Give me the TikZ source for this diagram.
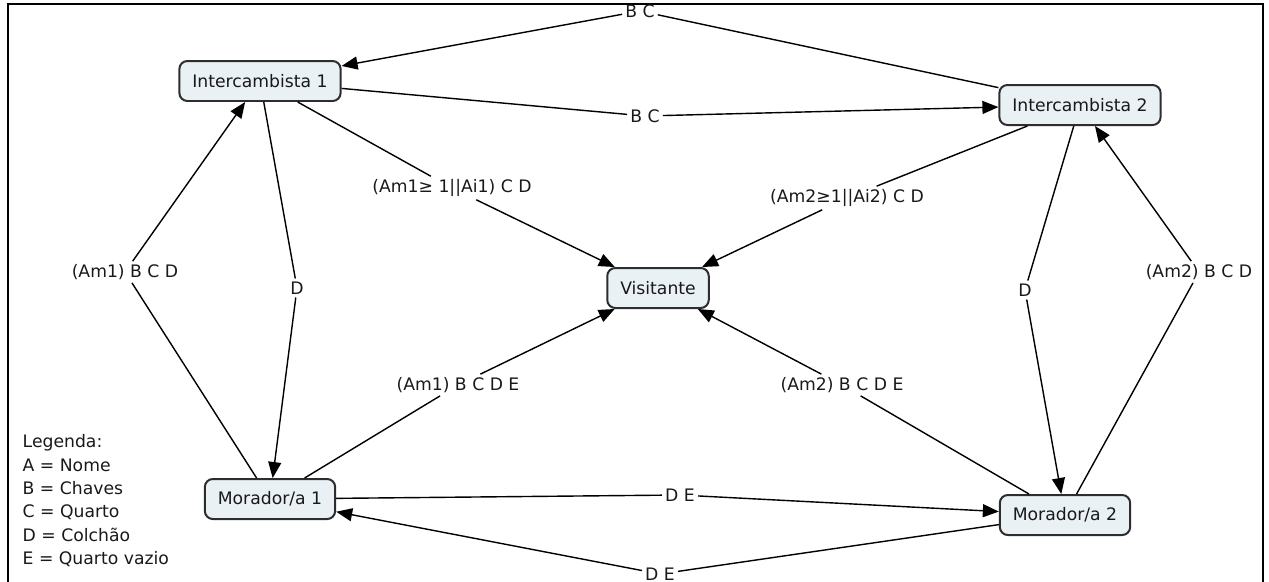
\documentclass[tikz,border=0pt]{standalone}
\usepackage{fontspec}
\setmainfont{DejaVu Sans}
\usetikzlibrary{arrows.meta}
\definecolor{color1}{RGB}{234,241,245}
\definecolor{color2}{RGB}{45,45,45}

\begin{document}
\begin{tikzpicture}[x=0.02cm, y=-0.02cm, >={Triangle[length=0.32cm,width=0.26cm]},
	every node/.style={font=\fontsize{9.8}{12}\selectfont, text=black!90},
	concept/.style={draw=color2, line width=0.04cm, fill=color1, rounded corners=0.16cm, inner xsep=0.26cm, minimum height=0.8cm},
	linkname/.style={inner sep=0.05cm},
	every path/.style={line width=0.8pt}
]
\useasboundingbox (0,0) rectangle (1269,582);
\draw[line width=0.04cm] (8,582) -- (8,4) -- (1263,4) -- (1263,582);

% concepts
\node[concept] (int1) at (260,81) {Intercambista 1};
\node[concept] (int2) at (1080,105) {Intercambista 2};
\node[concept] (vis) at (658,288) {Visitante};
\node[concept] (mor1) at (270,499) {Morador/a 1};
\node[concept] (mor2) at (1065,515) {Morador/a 2};

% linking phrases
\node[linkname] (bctop) at (640,11) {B C};
\node[linkname] (bcmid) at (645,116) {B C};
\node[linkname] (cd1) at (452,188) {(Am1≥ 1||Ai1) C D};
\node[linkname] (cd2) at (847,198) {(Am2≥1||Ai2) C D};
\node[linkname] (d1) at (297,288) {D};
\node[linkname] (d2) at (1025,290) {D};
\node[linkname] (am1) at (125,272) {(Am1) B C D};
\node[linkname] (am2) at (1199,272) {(Am2) B C D};
\node[linkname] (am1e) at (458,385) {(Am1) B C D E};
\node[linkname] (am2e) at (842,385) {(Am2) B C D E};
\node[linkname] (deup) at (680,495) {D E};
\node[linkname] (delow) at (660,574) {D E};

% connections
\draw (int2) -- (bctop);
\draw[->] (bctop) -- (int1);
\draw (int1) -- (bcmid);
\draw[->] (bcmid) -- (int2);
\draw (int1) -- (cd1);
\draw[->] (cd1) -- (vis);
\draw (int2) -- (cd2);
\draw[->] (cd2) -- (vis);
\draw (int1) -- (d1);
\draw[->] (d1) -- (mor1);
\draw (mor1) -- (am1);
\draw[->] (am1) -- (int1);
\draw (mor1) -- (am1e);
\draw[->] (am1e) -- (vis);
\draw (mor2) -- (am2e);
\draw[->] (am2e) -- (vis);
\draw (int2) -- (d2);
\draw[->] (d2) -- (mor2);
\draw (mor2) -- (am2);
\draw[->] (am2) -- (int2);
\draw (mor1) -- (deup);
\draw[->] (deup) -- (mor2);
\draw (mor2) -- (delow);
\draw[->] (delow) -- (mor1);

% legend
\node[anchor=north west, align=left, inner sep=0pt, font=\fontsize{9.8}{13.3}\selectfont] (legend) at (22,434)
	{Legenda:\\ A = Nome\\ B = Chaves\\ C = Quarto\\ D = Colchão\\ E = Quarto vazio};
\end{tikzpicture}
\end{document}
